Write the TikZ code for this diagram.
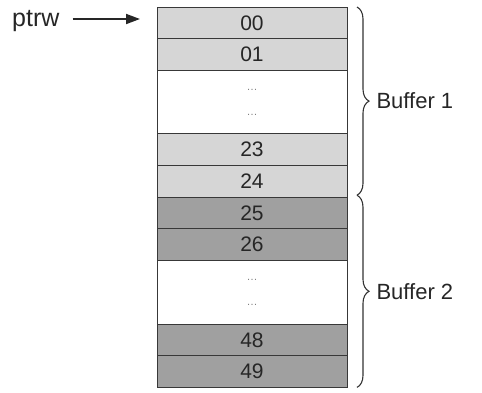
\documentclass[tikz,border=0pt]{standalone}
\usepackage{fontspec}
\setmainfont{Liberation Sans}
\usetikzlibrary{decorations.pathreplacing,arrows.meta}
\definecolor{lightcell}{HTML}{D6D6D6}
\definecolor{darkcell}{HTML}{A0A0A0}
\definecolor{cellline}{HTML}{383838}
\begin{document}
\begin{tikzpicture}[x=1pt,y=-1pt,
  cell/.style={draw=cellline,line width=1pt,minimum width=190pt,minimum height=31.7pt,
    inner sep=0pt,outer sep=0pt,anchor=north west,font=\fontsize{21}{21}\selectfont,text=black!85},
  bufa/.style={cell,fill=lightcell},
  bufb/.style={cell,fill=darkcell},
  gapcell/.style={cell,fill=white,minimum height=63.4pt,align=center,
    text=gray,font=\fontsize{11}{25}\selectfont},
  label/.style={font=\fontsize{22}{22}\selectfont,anchor=west,inner sep=0pt,text=black!85},
  bracket/.style={decorate,decoration={brace,amplitude=12pt},line width=1.1pt,draw=black!80}]
\useasboundingbox (0,0) rectangle (482,392);
% buffer 1
\node[bufa] (c00) at (157,7) {00};
\node[bufa] (c01) at (c00.south west) {01};
\node[gapcell] (g1) at (c01.south west) {\dots\\\dots};
\node[bufa] (c23) at (g1.south west) {23};
\node[bufa] (c24) at (c23.south west) {24};
% buffer 2
\node[bufb] (c25) at (c24.south west) {25};
\node[bufb] (c26) at (c25.south west) {26};
\node[gapcell] (g2) at (c26.south west) {\dots\\\dots};
\node[bufb] (c48) at (g2.south west) {48};
\node[bufb] (c49) at (c48.south west) {49};
% pointer
\node[label,font=\fontsize{25}{25}\selectfont] (ptrw) at (12,21) {ptrw};
\coordinate (pa) at ([xshift=13pt,yshift=2pt]ptrw.east);
\draw[-{Triangle[length=14pt,width=10pt]},line width=1.8pt,draw=black!85]
  (pa) -- ([xshift=-17pt]pa -| c00.west);
% braces
\coordinate (b1t) at ([xshift=10pt]c00.north east);
\coordinate (b1b) at ([xshift=10pt,yshift=2pt]c24.south east);
\coordinate (b2t) at ([xshift=10pt,yshift=2pt]c25.north east);
\coordinate (b2b) at ([xshift=10pt]c49.south east);
\draw[bracket] (b1t) -- (b1b) node[midway,xshift=19pt,label,anchor=west] (buf1) {Buffer 1};
\draw[bracket] (b2t) -- (b2b) node[midway,xshift=19pt,label,anchor=west] (buf2) {Buffer 2};
\end{tikzpicture}
\end{document}
